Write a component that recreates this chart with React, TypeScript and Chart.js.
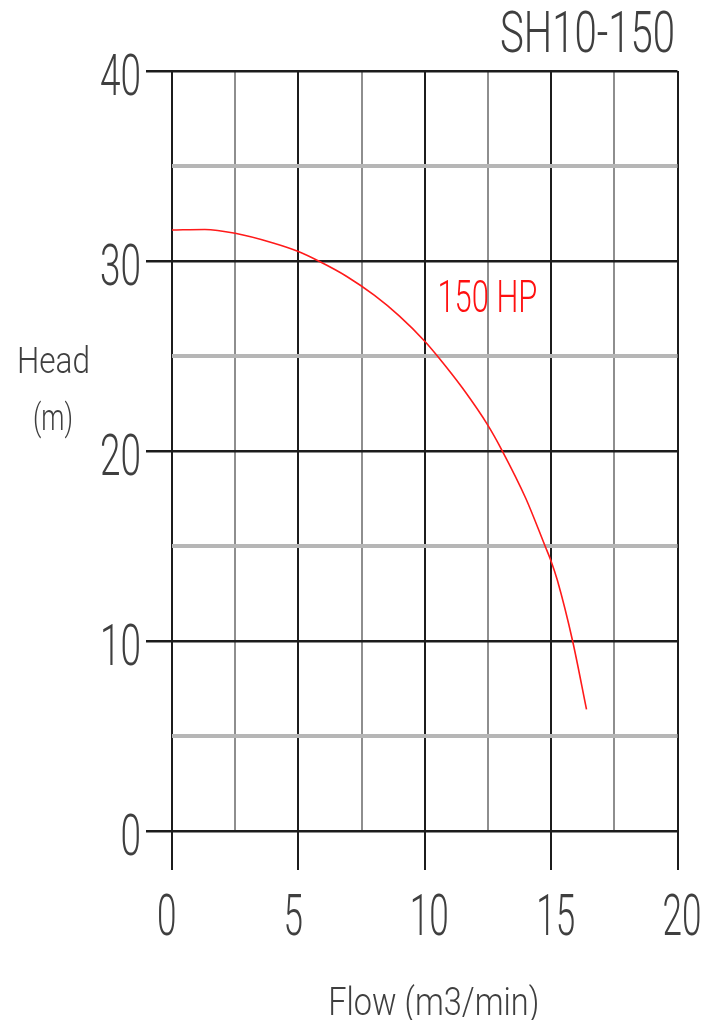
import React, { useEffect, useRef } from "react";
import { Chart, registerables } from "chart.js";

Chart.register(...registerables);

// ---- data ----
const flowValues = [0, 1.3, 2.5, 4, 5, 5.8, 6.9, 8, 9, 10, 10.5, 11.5, 12.5, 13.05, 14, 14.76, 15, 15.25, 15.85, 16.4];
const headValues = [31.63, 31.66, 31.46, 30.95, 30.5, 30.0, 29.2, 28.2, 27.1, 25.78, 25.0, 23.3, 21.35, 20.05, 17.5, 15.0, 14.2, 13.18, 10.0, 6.4];
const xTickValues = [0, 5, 10, 15, 20];
const xTickLabels = ["0", "5", "10", "15", "20"];
const yTickValues = [0, 10, 20, 30, 40];
const yTickLabels = ["0", "10", "20", "30", "40"];
const chartTitle = "SH10-150";
const curveLabel = "150 HP";
const curveLabelAt = [10.5, 28.15];
const yAxisTitle = ["Head", "(m)"];
const xAxisTitle = "Flow (m3/min)";

const FONT = "Roboto, 'DejaVu Sans', sans-serif";
const TEXT_GRAY = "#3f3f3f";
const BLACK = "#1c1c1c";
const MINOR_V = "#8e8e8e";
const MINOR_H = "#b6b6b6";

function drawText(
  ctx: CanvasRenderingContext2D,
  text: string,
  x: number,
  yCenter: number,
  capH: number,
  width: number,
  color: string,
  align: "left" | "center" | "right"
) {
  const size = capH / 0.711;
  ctx.save();
  ctx.font = `300 ${size}px ${FONT}`;
  const w = ctx.measureText(text).width;
  const sx = width / w;
  ctx.fillStyle = color;
  ctx.textAlign = "left";
  ctx.textBaseline = "alphabetic";
  ctx.translate(x, yCenter + capH / 2);
  ctx.scale(sx, 1);
  let dx = 0;
  if (align === "center") dx = -w / 2;
  else if (align === "right") dx = -w;
  ctx.fillText(text, dx, 0);
  ctx.restore();
}

const textPlugin = {
  id: "cadText",
  afterDraw(chart: any) {
    const ctx: CanvasRenderingContext2D = chart.ctx;
    const xs = chart.scales.x;
    const ys = chart.scales.y;
    const area = chart.chartArea;

    yTickValues.forEach((v, i) => {
      const t = yTickLabels[i];
      drawText(ctx, t, area.left - 31, ys.getPixelForValue(v) + 3, 41, t.length * 20.5, TEXT_GRAY, "right");
    });
    xTickValues.forEach((v, i) => {
      const t = xTickLabels[i];
      drawText(ctx, t, xs.getPixelForValue(v) - 15, area.bottom + 83, 41, t.length * 19.5, TEXT_GRAY, "left");
    });

    drawText(ctx, chartTitle, area.right - 2.5, 31, 41, 175, TEXT_GRAY, "right");
    drawText(ctx, yAxisTitle[0], 17, 360, 26, 73, TEXT_GRAY, "left");
    drawText(ctx, yAxisTitle[1], 53, 417, 26, 40, TEXT_GRAY, "center");
    drawText(ctx, xAxisTitle, (area.left + area.right) / 2 + 9, 1001, 28, 211, TEXT_GRAY, "center");

    drawText(
      ctx,
      curveLabel,
      xs.getPixelForValue(curveLabelAt[0]),
      ys.getPixelForValue(curveLabelAt[1]),
      32,
      100,
      "#ff1010",
      "left"
    );
  },
};

export default function App() {
  const ref = useRef<HTMLCanvasElement | null>(null);

  useEffect(() => {
    if (!ref.current) return;
    const isMajor = (v: number, step: number) => Math.abs(v / step - Math.round(v / step)) < 1e-6;
    const chart = new Chart(ref.current, {
      type: "line",
      data: {
        datasets: [
          {
            label: curveLabel,
            data: flowValues.map((x, i) => ({ x, y: headValues[i] })),
            borderColor: "#ff1a1a",
            borderWidth: 1.6,
            pointRadius: 0,
            fill: false,
            cubicInterpolationMode: "monotone",
          },
        ],
      },
      options: {
        responsive: false,
        animation: false,
        devicePixelRatio: 1,
        layout: { padding: { top: 71, right: 32.5, left: 0, bottom: 0 } },
        plugins: { legend: { display: false }, tooltip: { enabled: false }, title: { display: false } },
        scales: {
          x: {
            type: "linear",
            min: 0,
            max: 20,
            border: { display: false },
            ticks: { stepSize: 2.5, display: false },
            grid: {
              color: (c: any) => (isMajor(c.tick.value, 5) ? BLACK : MINOR_V),
              lineWidth: 2,
              tickColor: (c: any) => (isMajor(c.tick.value, 5) ? BLACK : "rgba(0,0,0,0)"),
              tickLength: 39,
              tickWidth: 2,
              drawTicks: true,
            },
            afterFit: (s: any) => {
              s.height = 189;
            },
          },
          y: {
            type: "linear",
            min: 0,
            max: 40,
            border: { display: false },
            ticks: { stepSize: 5, display: false },
            grid: {
              color: (c: any) => (isMajor(c.tick.value, 10) ? BLACK : MINOR_H),
              lineWidth: (c: any) => (isMajor(c.tick.value, 10) ? 2.5 : 4),
              tickColor: (c: any) => (isMajor(c.tick.value, 10) ? BLACK : "rgba(0,0,0,0)"),
              tickLength: 26,
              tickWidth: 2.5,
              drawTicks: true,
            },
            afterFit: (s: any) => {
              s.width = 172;
            },
          },
        },
      },
      plugins: [textPlugin],
    });
    return () => chart.destroy();
  }, []);

  return (
    <canvas
      ref={ref}
      width={710}
      height={1020}
      style={{ display: "block", position: "fixed", left: 0, top: 0, background: "#ffffff" }}
    />
  );
}
